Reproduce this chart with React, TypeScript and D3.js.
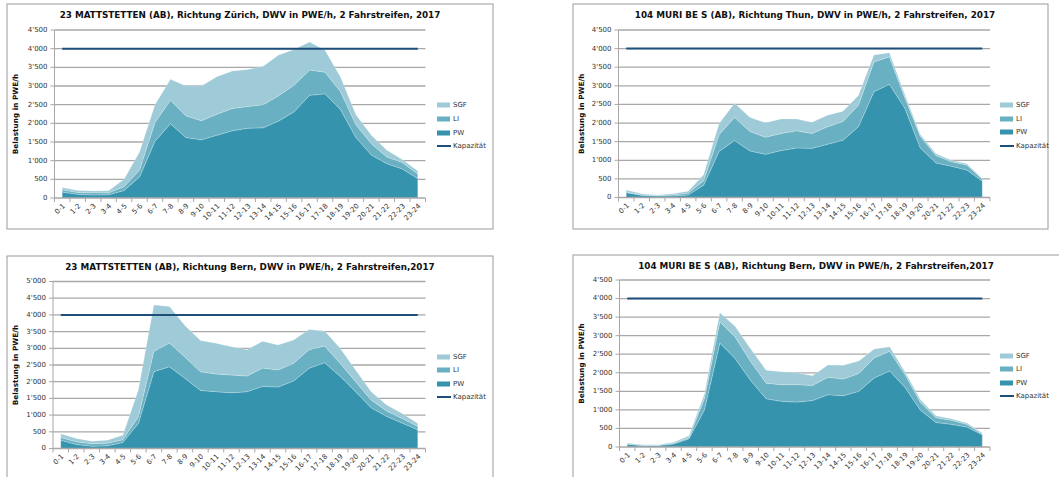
import React from 'react';
import * as d3 from 'd3';

// hour buckets on the x axis
const hours = ['0-1', '1-2', '2-3', '3-4', '4-5', '5-6', '6-7', '7-8', '8-9', '9-10', '10-11', '11-12',
  '12-13', '13-14', '14-15', '15-16', '16-17', '17-18', '18-19', '19-20', '20-21', '21-22', '22-23', '23-24'];

const seriesNames = ['PW', 'LI', 'SGF'];
const capacity = 4000;

// 23 Mattstetten, Richtung Zürich
const zhPW = [160, 100, 80, 90, 200, 560, 1520, 1990, 1620, 1560, 1680, 1800, 1870, 1880, 2060, 2310, 2750, 2790, 2370, 1620, 1150, 920, 780, 520];
const zhLI = [60, 50, 60, 50, 100, 190, 500, 630, 580, 510, 560, 600, 580, 620, 680, 710, 680, 580, 480, 340, 300, 180, 170, 120];
const zhSGF = [60, 50, 50, 55, 200, 480, 480, 560, 800, 930, 1010, 1000, 990, 1030, 1090, 960, 750, 590, 390, 270, 230, 180, 80, 80];

// 104 Muri BE S, Richtung Thun
const thPW = [130, 60, 40, 40, 70, 330, 1240, 1530, 1250, 1160, 1260, 1330, 1320, 1430, 1540, 1900, 2840, 3040, 2400, 1330, 930, 840, 740, 440];
const thLI = [20, 10, 10, 30, 50, 120, 450, 620, 520, 460, 460, 460, 400, 470, 500, 580, 800, 740, 280, 310, 200, 120, 130, 50];
const thSGF = [50, 30, 20, 30, 50, 160, 300, 380, 380, 390, 390, 320, 300, 310, 280, 260, 190, 110, 80, 50, 50, 40, 40, 20];

// 23 Mattstetten, Richtung Bern
const mbPW = [250, 120, 70, 80, 180, 750, 2300, 2450, 2100, 1740, 1700, 1670, 1700, 1860, 1840, 2020, 2400, 2570, 2160, 1700, 1220, 960, 760, 560];
const mbLI = [80, 80, 70, 80, 80, 200, 610, 710, 640, 560, 530, 530, 470, 550, 510, 530, 560, 500, 390, 300, 230, 160, 140, 100];
const mbSGF = [110, 100, 80, 90, 140, 800, 1390, 1090, 940, 930, 920, 850, 790, 800, 750, 700, 600, 450, 450, 350, 250, 180, 150, 90];

// 104 Muri BE S, Richtung Bern
const muPW = [70, 40, 40, 80, 220, 1000, 2800, 2380, 1790, 1300, 1230, 1210, 1250, 1410, 1380, 1500, 1860, 2050, 1600, 990, 660, 610, 540, 330];
const muLI = [20, 10, 10, 20, 30, 300, 570, 580, 510, 420, 450, 470, 410, 470, 450, 480, 540, 530, 350, 210, 130, 110, 70, 20];
const muSGF = [20, 10, 10, 30, 50, 120, 250, 290, 340, 350, 350, 320, 260, 330, 370, 340, 240, 120, 70, 70, 50, 40, 40, 30];

const colors = { PW: '#3593ae', LI: '#69b0c2', SGF: '#9ecbd7' };
const capColor = '#1d4f7a';
const gridColor = '#a8a8a8';
const font = '"DejaVu Sans", Verdana, sans-serif';
const small = 7;

const fmt = (v) => d3.format(',')(v).replace(/,/g, "'");

function Panel({ title, pw, li, sgf, yMax, box, plot, titleX, titleY, legendX, legendY }) {
  const x = d3.scaleBand().domain(hours).range([plot.left, plot.right]).padding(0);
  const y = d3.scaleLinear().domain([0, yMax]).range([plot.bottom, plot.top]);
  const cx = (h) => x(h) + x.bandwidth() / 2;

  const rows = hours.map((h, i) => ({ h, PW: pw[i], LI: li[i], SGF: sgf[i] }));
  const stacked = d3.stack().keys(seriesNames)(rows);
  const area = d3.area()
    .x((d) => cx(d.data.h))
    .y0((d) => y(d[0]))
    .y1((d) => y(d[1]));

  const ticks = d3.range(0, yMax + 1, 500);
  const legend = ['SGF', 'LI', 'PW'];

  return (
    <g>
      <rect x={box.x} y={box.y} width={box.w} height={box.h} fill="white" stroke="#9a9a9a" strokeWidth={1} />
      <text x={titleX} y={titleY} textAnchor="middle" dominantBaseline="middle" fontFamily={font}
        fontWeight="bold" fontSize={8.8} fill="#111">{title}</text>

      {ticks.map((t) => (
        <g key={t}>
          {t > 0 && <line x1={plot.left} x2={plot.right} y1={y(t)} y2={y(t)} stroke={gridColor} strokeWidth={1.3} />}
          <line x1={plot.left - 4} x2={plot.left} y1={y(t)} y2={y(t)} stroke={gridColor} strokeWidth={1} />
          <text x={plot.left - 7} y={y(t)} textAnchor="end" dominantBaseline="middle" fontFamily={font}
            fontSize={small} fill="#333">{fmt(t)}</text>
        </g>
      ))}

      {stacked.map((s) => (
        <path key={s.key} d={area(s)} fill={colors[s.key]} stroke="rgba(255,255,255,0.35)" strokeWidth={0.6} />
      ))}

      <line x1={cx(hours[0])} x2={cx(hours[hours.length - 1])} y1={y(capacity)} y2={y(capacity)}
        stroke={capColor} strokeWidth={2} />

      <line x1={plot.left} x2={plot.left} y1={plot.top} y2={plot.bottom} stroke={gridColor} strokeWidth={1} />
      <line x1={plot.left} x2={plot.right} y1={plot.bottom} y2={plot.bottom} stroke={gridColor} strokeWidth={1.3} />
      {d3.range(hours.length + 1).map((i) => {
        const xx = plot.left + i * x.bandwidth();
        return <line key={i} x1={xx} x2={xx} y1={plot.bottom} y2={plot.bottom + 4} stroke={gridColor} strokeWidth={1} />;
      })}
      {hours.map((h) => (
        <text key={h} transform={`translate(${cx(h) + 2},${plot.bottom + 7}) rotate(-45)`} textAnchor="end"
          dominantBaseline="middle" fontFamily={font} fontSize={small} fill="#333">{h}</text>
      ))}

      <text transform={`translate(${box.x + 9},${(plot.top + plot.bottom) / 2}) rotate(-90)`} textAnchor="middle"
        dominantBaseline="middle" fontFamily={font} fontWeight="bold" fontSize={7.3} fill="#111">Belastung in PWE/h</text>

      {legend.map((k, i) => (
        <g key={k}>
          <rect x={legendX} y={legendY[i] - 2.5} width={13} height={5} fill={colors[k]} />
          <text x={legendX + 16} y={legendY[i]} dominantBaseline="middle" fontFamily={font} fontSize={small} fill="#333">{k}</text>
        </g>
      ))}
      <line x1={legendX} x2={legendX + 14} y1={legendY[3]} y2={legendY[3]} stroke={capColor} strokeWidth={2} />
      <text x={legendX + 16} y={legendY[3]} dominantBaseline="middle" fontFamily={font} fontSize={small} fill="#333">Kapazität</text>
    </g>
  );
}

export default function App() {
  return (
    <svg width={1059} height={477} style={{ position: 'absolute', left: 0, top: 0, background: 'white' }}>
      <Panel title="23 MATTSTETTEN (AB), Richtung Zürich, DWV in PWE/h, 2 Fahrstreifen, 2017"
        pw={zhPW} li={zhLI} sgf={zhSGF} yMax={4500}
        box={{ x: 7, y: 4, w: 486, h: 225 }} plot={{ left: 54.5, right: 425.5, top: 30, bottom: 198 }}
        titleX={250} titleY={15.5} legendX={437} legendY={[105, 119, 133, 146]} />
      <Panel title="104 MURI BE S (AB), Richtung Thun, DWV in PWE/h, 2 Fahrstreifen, 2017"
        pw={thPW} li={thLI} sgf={thSGF} yMax={4500}
        box={{ x: 573, y: 4, w: 475, h: 225 }} plot={{ left: 618.5, right: 990, top: 30, bottom: 197.5 }}
        titleX={815} titleY={15.5} legendX={1000} legendY={[105, 119, 132, 146]} />
      <Panel title="23 MATTSTETTEN (AB), Richtung Bern, DWV in PWE/h, 2 Fahrstreifen,2017"
        pw={mbPW} li={mbLI} sgf={mbSGF} yMax={5000}
        box={{ x: 7, y: 256, w: 486, h: 240 }} plot={{ left: 53, right: 425.5, top: 281.5, bottom: 448.5 }}
        titleX={250} titleY={267.5} legendX={437} legendY={[357, 370, 384, 397]} />
      <Panel title="104 MURI BE S (AB), Richtung Bern, DWV in PWE/h, 2 Fahrstreifen,2017"
        pw={muPW} li={muLI} sgf={muSGF} yMax={4500}
        box={{ x: 573, y: 255, w: 500, h: 240 }} plot={{ left: 619.5, right: 990, top: 280, bottom: 447 }}
        titleX={816} titleY={266.5} legendX={1000} legendY={[356, 369, 383, 396]} />
    </svg>
  );
}
